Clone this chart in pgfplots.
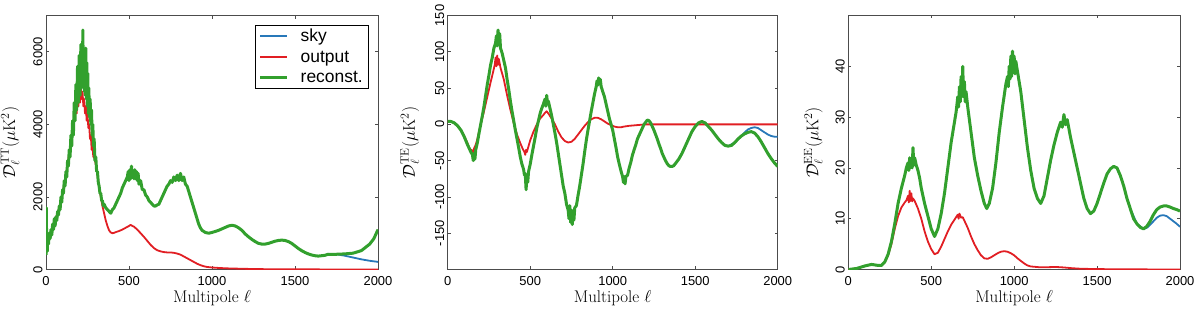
\documentclass[border=0pt]{standalone}
\usepackage{fontspec}
\usepackage{pgfplots}
\pgfplotsset{compat=1.18}
\newfontfamily\arial{Liberation Sans}
\definecolor{csky}{RGB}{40,120,185}
\definecolor{cout}{RGB}{225,30,35}
\definecolor{crec}{RGB}{50,160,45}
\pgfplotsset{
  cmbaxis/.style={
    scale only axis, height=254bp, anchor=south west,
    xmin=0, xmax=2000, xtick={0,500,1000,1500,2000},
    scaled ticks=false,
    /pgf/number format/1000 sep={},
    /pgf/number format/assume math mode=true,
    tick label style={font=\fontsize{13}{14}\arial},
    yticklabel style={rotate=90, anchor=south},
    xticklabel style={yshift=-3.8bp},
    tick align=inside, major tick length=3bp,
    axis line style={black!70, line width=0.6bp},
    every tick/.style={black!70, line width=0.6bp},
    label style={font=\fontsize{17}{20}\selectfont},
    xlabel={Multipole $\ell$},
    xlabel style={at={(axis description cs:0.5,0)}, anchor=north, yshift=-17.3bp},
    legend image code/.code={\draw[#1] (0bp,0bp) -- (27bp,0bp);},
  },
  sky/.style={color=csky, line width=1.8bp, line join=round},
  out/.style={color=cout, line width=1.8bp, line join=round},
  rec/.style={color=crec, line width=3bp, line join=round},
}
\begin{document}
\begin{tikzpicture}
\path[use as bounding box] (0,0) rectangle (1200bp,314bp);
% ---------------- Panel 1: TT
\begin{axis}[cmbaxis, at={(46bp,44.5bp)}, width=332bp,
  ymin=0, ymax=7000, ytick={0,2000,4000,6000},
  ylabel={$\mathcal{D}_\ell^{\rm TT}(\mu{\rm K}^2)$},
  ylabel style={at={(axis description cs:-0.108,0.5)}, anchor=center},
  legend style={at={(rel axis cs:1,1)}, anchor=north east, xshift=-10bp, yshift=-9bp,
    draw=black, line width=0.5bp, font=\fontsize{17.5}{21}\arial,
    cells={anchor=west}, inner xsep=3bp, inner ysep=2bp, row sep=4bp,
    /tikz/every odd column/.append style={column sep=10bp}}]
\addplot[sky] coordinates {(1700,430) (1750,420) (1800,380) (1850,330) (1900,280) (1950,240) (2000,210)};
\addlegendentry{sky}
\addplot[out] coordinates {
(0,500) (20,900) (50,1300) (80,1700) (100,2100) (120,2600) (140,3200) (150,3500) (160,3900) (170,4200)
(180,4500) (185,4300) (190,4800) (195,4500) (200,4900) (205,4600) (210,5000) (215,4700) (220,4900)
(225,4500) (230,4700) (235,4300) (240,4500) (245,4100) (250,4300) (255,3900) (260,4000) (265,3600)
(270,3700) (275,3300) (280,3400) (285,3100) (290,3100) (300,2900) (310,2600) (320,2300) (330,2000)
(340,1750) (350,1550) (360,1350) (370,1200) (380,1080) (390,1020) (400,1000) (410,1010) (420,1030)
(440,1060) (460,1100) (480,1150) (500,1200) (510,1230) (520,1200) (530,1180) (550,1100) (570,1000)
(590,900) (610,790) (630,680) (650,590) (670,530) (690,500) (710,480) (730,470) (750,470) (770,460)
(790,440) (810,410) (830,360) (850,310) (870,260) (890,210) (910,160) (930,120) (950,90) (970,70)
(1000,55) (1050,40) (1100,30) (1200,18) (1300,10) (1400,6) (1600,3) (2000,1)};
\addlegendentry{output}
\addplot[rec] coordinates {
(0,400) (2,1700) (4,600) (6,1000) (8,500) (10,900) (15,700) (20,1000) (25,850) (30,1100) (35,950)
(40,1250) (45,1100) (50,1400) (55,1200) (60,1450) (65,1350) (70,1600) (75,1500) (80,1750) (85,1650)
(90,2000) (95,1850) (100,2200) (105,2100) (110,2450) (115,2300) (120,2700) (125,2550) (130,3000)
(135,2850) (140,3300) (145,3100) (150,3700) (155,3400) (160,4100) (165,3700) (170,4600) (175,4100)
(180,5100) (185,4400) (190,5600) (195,4600) (200,5900) (205,4800) (210,6200) (213,5000) (216,5700)
(219,5100) (222,6600) (225,5200) (228,6000) (231,4900) (234,5800) (237,4800) (240,6100) (243,4700)
(246,5700) (249,4500) (252,5400) (255,4300) (258,5000) (262,4200) (266,4700) (270,4000) (274,4400)
(278,3700) (282,4000) (286,3400) (290,3600) (295,3000) (300,3100) (305,2700) (310,2700) (315,2400)
(320,2300) (325,2100) (330,2100) (335,1900) (340,1900) (345,1750) (350,1800) (360,1700) (370,1650)
(380,1600) (390,1550) (400,1650) (410,1700) (420,1800) (430,1900) (440,2000) (450,2100) (460,2250)
(470,2350) (480,2450) (490,2550) (495,2700) (500,2450) (505,2750) (510,2500) (515,2850) (520,2550)
(525,2700) (530,2500) (535,2750) (540,2500) (545,2700) (550,2450) (555,2650) (560,2350) (570,2450)
(580,2200) (590,2200) (600,2050) (610,2000) (620,1900) (630,1850) (640,1800) (650,1750) (660,1750)
(670,1780) (680,1800) (690,1900) (700,2000) (710,2100) (720,2200) (730,2300) (740,2350) (750,2450)
(760,2400) (770,2550) (780,2450) (790,2600) (800,2450) (810,2650) (820,2450) (830,2550) (840,2350)
(850,2300) (860,2150) (870,2000) (880,1850) (890,1700) (900,1550) (910,1400) (920,1250) (930,1150)
(940,1080) (950,1050) (960,1020) (980,1000) (1000,1020) (1020,1050) (1040,1080) (1060,1120)
(1080,1160) (1100,1200) (1120,1220) (1140,1200) (1160,1150) (1180,1080) (1200,980) (1220,900)
(1240,830) (1260,770) (1280,720) (1300,700) (1320,700) (1340,720) (1360,750) (1380,780) (1400,800)
(1420,810) (1440,800) (1460,770) (1480,720) (1500,650) (1520,580) (1540,520) (1560,470) (1580,430)
(1600,400) (1620,380) (1640,370) (1660,380) (1680,390) (1700,420) (1750,420) (1800,430) (1850,450)
(1900,520) (1950,700) (1975,850) (2000,1100)};
\addlegendentry{reconst.}
\end{axis}
% ---------------- Panel 2: TE
\begin{axis}[cmbaxis, at={(447.7bp,44.5bp)}, width=330bp,
  ymin=-200, ymax=150, ytick={-150,-100,-50,0,50,100,150},
  ylabel={$\mathcal{D}_\ell^{\rm TE}(\mu{\rm K}^2)$},
  ylabel style={at={(axis description cs:-0.115,0.5)}, anchor=center}]
\addplot[sky] coordinates {(1700,-30) (1740,-25) (1780,-16) (1800,-11) (1820,-7) (1840,-5) (1860,-4)
(1880,-5) (1900,-8) (1920,-11) (1940,-14) (1960,-16) (1980,-17) (2000,-17)};
\addplot[out] coordinates {
(0,4) (20,4) (40,2) (60,-2) (80,-8) (100,-16) (120,-26) (130,-32) (140,-35) (150,-36) (155,-40)
(160,-33) (170,-28) (180,-20) (190,-10) (200,0) (220,18) (240,38) (260,58) (275,72) (285,82) (290,92)
(295,80) (300,95) (305,82) (310,90) (320,78) (340,62) (360,40) (380,20) (400,2) (420,-14) (440,-26)
(455,-34) (465,-38) (470,-42) (475,-35) (480,-38) (490,-30) (500,-22) (520,-10) (540,0) (560,8)
(580,13) (590,16) (600,18) (610,15) (630,8) (650,0) (670,-10) (690,-18) (710,-23) (730,-25) (750,-24)
(770,-20) (790,-14) (810,-8) (830,-2) (850,3) (870,7) (890,9) (910,9) (930,7) (950,4) (970,1)
(990,-1) (1010,-3) (1030,-4) (1050,-4) (1070,-3) (1100,-2) (1150,-1) (1200,0) (2000,0)};
\addplot[rec] coordinates {
(0,4) (20,4) (40,2) (60,-2) (80,-8) (100,-17) (120,-28) (140,-38) (150,-42) (155,-50) (160,-40)
(165,-48) (170,-35) (180,-25) (190,-12) (200,0) (210,12) (220,25) (230,40) (240,55) (250,68) (260,82)
(270,92) (280,105) (290,112) (295,122) (300,108) (305,130) (310,112) (315,125) (320,105) (330,98)
(340,88) (350,78) (360,62) (370,48) (380,32) (390,18) (400,5) (410,-8) (420,-20) (430,-32) (440,-45)
(450,-55) (460,-62) (465,-70) (470,-68) (475,-90) (480,-72) (485,-80) (490,-65) (500,-55) (510,-42)
(520,-30) (530,-18) (540,-5) (550,5) (560,15) (570,22) (580,28) (590,35) (595,25) (600,40) (605,28)
(610,32) (620,22) (630,12) (640,0) (650,-12) (660,-25) (670,-40) (680,-55) (690,-70) (700,-85)
(710,-95) (720,-110) (730,-118) (735,-130) (740,-112) (745,-135) (750,-118) (755,-138) (760,-120)
(765,-132) (770,-115) (780,-112) (790,-98) (800,-85) (810,-70) (820,-55) (830,-38) (840,-22) (850,-8)
(860,5) (870,18) (880,30) (890,42) (900,52) (905,60) (910,54) (915,64) (920,56) (925,62) (930,52)
(940,45) (950,38) (960,28) (970,18) (980,8) (990,0) (1000,-8) (1010,-20) (1020,-32) (1030,-45)
(1040,-55) (1050,-64) (1060,-72) (1065,-80) (1070,-72) (1075,-82) (1080,-72) (1090,-70) (1100,-60)
(1110,-52) (1120,-42) (1130,-35) (1140,-28) (1150,-20) (1160,-15) (1170,-10) (1180,-5) (1190,0)
(1200,3) (1210,6) (1220,5) (1230,2) (1240,-3) (1250,-8) (1260,-14) (1270,-20) (1280,-27) (1290,-33)
(1300,-40) (1310,-45) (1320,-50) (1330,-54) (1340,-57) (1350,-58) (1360,-58) (1370,-57) (1380,-54)
(1390,-51) (1400,-48) (1420,-40) (1440,-30) (1460,-20) (1480,-10) (1500,-3) (1520,2) (1540,4)
(1560,2) (1580,-3) (1600,-8) (1620,-14) (1640,-20) (1660,-25) (1680,-29) (1700,-30) (1720,-29)
(1740,-25) (1760,-20) (1780,-16) (1800,-13) (1820,-11) (1840,-10) (1860,-12) (1880,-17) (1900,-24)
(1920,-32) (1940,-40) (1960,-47) (1980,-53) (2000,-58)};
\end{axis}
% ---------------- Panel 3: EE
\begin{axis}[cmbaxis, at={(848.3bp,44.5bp)}, width=331.7bp,
  ymin=0, ymax=50, ytick={0,10,20,30,40},
  ylabel={$\mathcal{D}_\ell^{\rm EE}(\mu{\rm K}^2)$},
  ylabel style={at={(axis description cs:-0.1055,0.5)}, anchor=center}]
\addplot[sky] coordinates {(1700,12) (1740,9) (1780,8) (1800,8.2) (1820,8.8) (1840,9.5) (1860,10.2)
(1880,10.6) (1900,10.7) (1920,10.5) (1940,10) (1960,9.5) (1980,9) (2000,8.4)};
\addplot[out] coordinates {
(0,0) (50,0.2) (100,0.7) (140,1.0) (180,0.8) (200,0.8) (220,1.4) (240,2.8) (260,5) (280,8) (300,10.5)
(320,12.2) (340,13.2) (350,13.6) (360,14.5) (365,13.2) (370,15.5) (375,13.5) (380,15) (385,13.4)
(390,14) (400,13.5) (420,12) (440,10) (460,7.5) (480,5.5) (500,4) (520,3) (540,3.3) (560,4.5) (580,6)
(600,7.5) (620,8.8) (640,9.8) (650,10.3) (660,10.8) (665,10) (670,11) (680,10.2) (690,10.3) (700,9.6)
(720,8.2) (740,6.5) (760,5) (780,3.8) (800,2.8) (820,2.2) (840,2.1) (860,2.4) (880,2.8) (900,3.2)
(920,3.5) (940,3.6) (960,3.5) (980,3.2) (1000,2.8) (1020,2.2) (1040,1.7) (1060,1.2) (1080,0.8)
(1100,0.6) (1150,0.45) (1200,0.45) (1250,0.5) (1300,0.4) (1350,0.25) (1400,0.15) (1500,0.08)
(1700,0.03) (2000,0)};
\addplot[rec] coordinates {
(0,0) (50,0.2) (100,0.7) (140,1.0) (180,0.8) (200,0.8) (220,1.5) (240,3.0) (260,5.5) (280,9.0)
(300,13) (320,16) (340,18.5) (350,20) (360,21) (365,19.5) (370,22) (375,20) (380,21.5) (385,20)
(390,24) (395,20.5) (400,22) (410,20.5) (420,19.5) (430,18) (440,16) (460,13) (480,10.5) (500,8)
(520,6.5) (540,8) (560,11) (580,15) (600,20) (620,25) (640,29) (650,31) (660,34) (665,32) (670,36)
(675,33) (680,38) (685,34) (690,40) (695,34) (700,37) (705,33) (710,35) (720,32) (740,27) (760,22)
(780,18.5) (800,15.5) (820,13) (835,12) (850,13) (870,16) (890,21) (910,27) (930,32) (950,36.5)
(960,38) (965,36) (970,40) (975,37.5) (980,42) (985,38) (990,43) (995,39) (1000,42) (1005,38.5)
(1010,41) (1020,39) (1040,35) (1060,29.5) (1080,24) (1100,19.5) (1120,16) (1140,14) (1160,13)
(1180,14.5) (1200,18) (1220,21.5) (1240,24.5) (1260,27) (1280,29) (1290,28) (1300,30.5) (1310,28.5)
(1320,29.5) (1340,26) (1360,23) (1380,20) (1400,17) (1420,14) (1440,12) (1460,11) (1480,11.5)
(1500,13) (1520,15) (1540,17) (1560,18.8) (1580,19.8) (1600,20.3) (1620,20) (1640,18.5) (1660,16.5)
(1680,14) (1700,12) (1720,10) (1740,9) (1760,8.3) (1780,8) (1800,8.5) (1820,9.5) (1840,10.8)
(1860,11.8) (1880,12.3) (1900,12.5) (1920,12.5) (1940,12.3) (1960,12) (1980,11.8) (2000,11.5)};
\end{axis}
\end{tikzpicture}
\end{document}
